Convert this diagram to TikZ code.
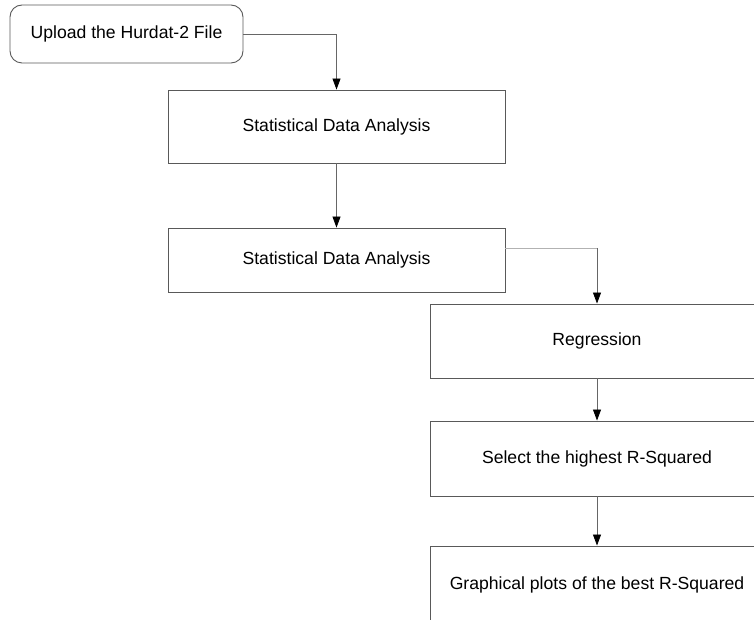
\documentclass[tikz,border=0pt]{standalone}
\usepackage{fontspec}
\setmainfont{Liberation Sans}
\usepackage{tikz}
\usetikzlibrary{arrows.meta}
\tikzset{
  startbox/.style={draw=black!65, line width=0.9pt, rounded corners=12pt, minimum width=233pt, minimum height=58pt, inner sep=0pt, font=\fontsize{17.6}{20}\selectfont},
  stepbox/.style={draw=black!65, line width=0.9pt, minimum width=337pt, minimum height=73pt, inner sep=0pt, font=\fontsize{17.6}{20}\selectfont},
  flow/.style={-{Triangle[length=11pt,width=8pt,color=black]}, draw=black!60, line width=0.8pt},
  faint/.style={draw=black!30, line width=0.8pt}
}

\begin{document}
\begin{tikzpicture}[x=1pt, y=-1pt]
  \useasboundingbox (0,0) rectangle (754,620);
  \clip (0,0) rectangle (754,620);
  \node[startbox] (upload) at (126.5,34) {Upload the Hurdat-2 File};
  \node[stepbox] (sda1) at (336.5,126.5) {Statistical Data Analysis};
  \node[stepbox, minimum height=64pt] (sda2) at (336.5,260) {Statistical Data Analysis};
  \node[stepbox, minimum width=334pt, minimum height=74pt] (reg) at (597,341) {Regression};
  \node[stepbox, minimum width=334pt, minimum height=75pt] (sel) at (597,458.5) {Select the highest R-Squared};
  \node[stepbox, minimum width=334pt, minimum height=78pt] (plot) at (597,585) {Graphical plots of the best R-Squared};
  \draw[flow] (upload.east) -| (sda1.north);
  \draw[flow] (sda1.south) -- (sda2.north);
  \coordinate (turn) at (sda2.east |- 0,248);
  \draw[faint] (turn) -- (reg.north |- turn);
  \draw[flow] (reg.north |- turn) -- (reg.north);
  \draw[flow] (reg.south) -- (sel.north);
  \draw[flow] (sel.south) -- (plot.north);
\end{tikzpicture}
\end{document}
